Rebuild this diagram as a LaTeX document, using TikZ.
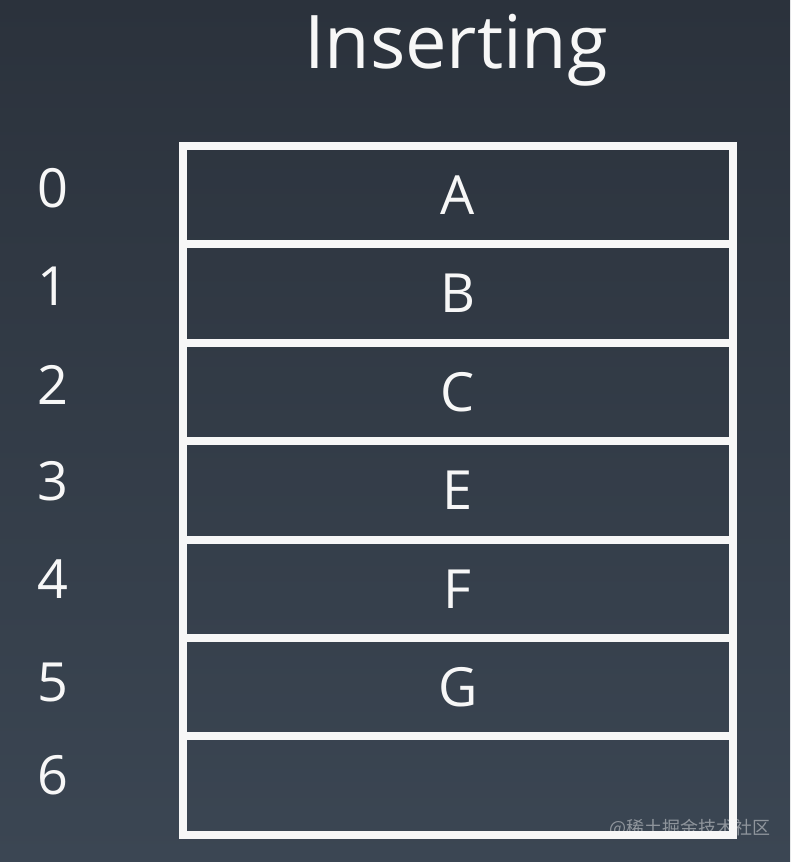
\documentclass[tikz,border=0pt]{standalone}
\usepackage{fontspec}
\setmainfont{Open Sans}
\newfontfamily\cjkfont{Noto Sans CJK SC}
\definecolor{bgtop}{HTML}{2B323C}
\definecolor{bgbottom}{HTML}{3B4653}
\definecolor{chalk}{HTML}{F7F7F7}
\tikzset{
    cell/.style={draw=chalk,line width=8pt,minimum width=550.5pt,minimum height=98.4pt,
        inner sep=0pt,outer sep=0pt,text=chalk,font=\fontsize{54}{54}\selectfont},
    idx/.style={text=chalk,font=\fontsize{54}{54}\selectfont},
}
\begin{document}
\begin{tikzpicture}[x=1pt,y=-1pt]
        \shade[top color=bgtop,bottom color=bgbottom] (0,0) rectangle (790,862);
        \useasboundingbox (0,0) rectangle (790,862);
        \node[text=chalk,font=\fontsize{74}{74}\selectfont] (title) at (456,50) {Inserting};
        % the array
        \node[cell] (c0) at (457.75,195.2) {A};
        \node[cell] (c1) at (457.75,293.6) {B};
        \node[cell] (c2) at (457.75,392.0) {C};
        \node[cell] (c3) at (457.75,490.4) {E};
        \node[cell] (c4) at (457.75,588.8) {F};
        \node[cell] (c5) at (457.75,687.2) {G};
        \node[cell] (c6) at (457.75,785.6) {};
        % indices
        \node[idx] (i0) at (53,188) {0};
        \node[idx] (i1) at (53,286) {1};
        \node[idx] (i2) at (53,385) {2};
        \node[idx] (i3) at (53,481) {3};
        \node[idx] (i4) at (53,579) {4};
        \node[idx] (i5) at (53,682) {5};
        \node[idx] (i6) at (53,775) {6};
        \node[text=chalk,opacity=0.45,font=\cjkfont\fontsize{18}{18}\selectfont] (mark) at (690,828) {@稀土掘金技术社区};
    \end{tikzpicture}
\end{document}
